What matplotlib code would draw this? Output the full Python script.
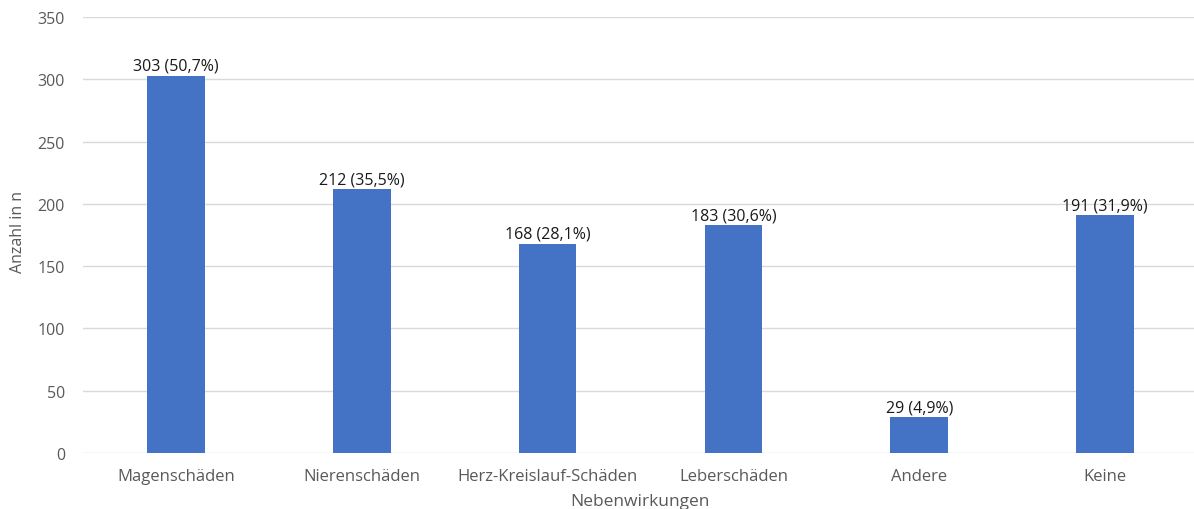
import matplotlib
matplotlib.use("Agg")
import matplotlib.pyplot as plt

categories = ["Magenschäden", "Nierenschäden", "Herz-Kreislauf-Schäden",
              "Leberschäden", "Andere", "Keine"]
counts = [303, 212, 168, 183, 29, 191]
percents = ["50,7", "35,5", "28,1", "30,6", "4,9", "31,9"]
yticks = [0, 50, 100, 150, 200, 250, 300, 350]

plt.rcParams["font.family"] = ["Open Sans", "DejaVu Sans"]

W, H = 1194, 510
fig = plt.figure(figsize=(W / 100, H / 100), dpi=100)
ax = fig.add_axes([83 / W, 56 / H, 1115 / W, 436 / H])

x = list(range(len(categories)))
bars = ax.bar(x, counts, width=0.31, color="#4472C4", zorder=3)

for xi, c, p in zip(x, counts, percents):
    ax.text(xi, c + 1.5, f"{c} ({p}%)", ha="center", va="bottom",
            fontsize=11.5, color="#1a1a1a", zorder=4)

ax.set_xlim(-0.5, len(categories) - 0.5)
ax.set_ylim(0, 350)
ax.set_yticks(yticks)
ax.set_xticks(x)
ax.set_xticklabels(categories)
ax.yaxis.grid(True, color="#d9d9d9", linewidth=1.0, zorder=0)
ax.set_axisbelow(True)
for s in ax.spines.values():
    s.set_visible(False)
ax.tick_params(axis="both", length=0, colors="#595959", labelsize=11.5)
ax.tick_params(axis="y", pad=13)
ax.tick_params(axis="x", labelsize=12, pad=11)

fig.text(640 / W, 1 - 502 / H, "Nebenwirkungen", color="#595959",
         fontsize=12.5, ha="center", va="center")
fig.text(18 / W, 1 - 232 / H, "Anzahl in n", color="#595959",
         fontsize=11.5, ha="center", va="center", rotation=90)

fig.savefig("out.png", dpi=100)
